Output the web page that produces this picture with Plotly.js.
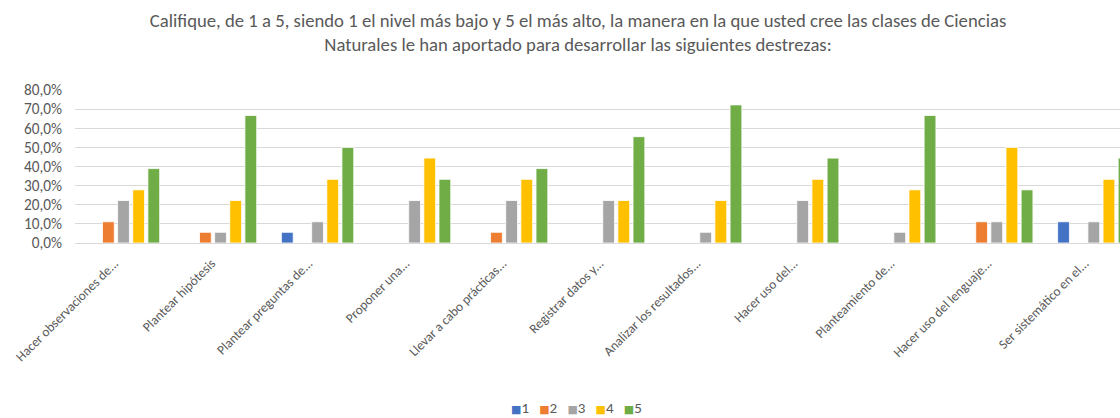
<!DOCTYPE html>
<html>
<head>
<meta charset="utf-8">
<script src="https://cdn.plot.ly/plotly-3.0.1.min.js"></script>
<style>html,body{margin:0;padding:0;background:#fff;}#chart{width:1120px;height:418px;}</style>
</head>
<body>
<div id="chart"></div>
<script>
const categories = [
  "Hacer observaciones de...",
  "Plantear hipótesis",
  "Plantear preguntas de...",
  "Proponer una...",
  "Llevar a cabo prácticas...",
  "Registrar datos y...",
  "Analizar los resultados...",
  "Hacer uso del...",
  "Planteamiento de...",
  "Hacer uso del lenguaje...",
  "Ser sistemático en el..."
];
const seriesNames = ["1", "2", "3", "4", "5"];
const s1 = [0, 0, 0.056, 0, 0, 0, 0, 0, 0, 0, 0.111];
const s2 = [0.111, 0.056, 0, 0, 0.056, 0, 0, 0, 0, 0.111, 0];
const s3 = [0.222, 0.056, 0.111, 0.222, 0.222, 0.222, 0.056, 0.222, 0.056, 0.111, 0.111];
const s4 = [0.278, 0.222, 0.333, 0.444, 0.333, 0.222, 0.222, 0.333, 0.278, 0.500, 0.333];
const s5 = [0.389, 0.667, 0.500, 0.333, 0.389, 0.556, 0.722, 0.444, 0.667, 0.278, 0.444];
const colors = ["#4472C4", "#ED7D31", "#A5A5A5", "#FFC000", "#70AD47"];
const allSeries = [s1, s2, s3, s4, s5];

const traces = allSeries.map((vals, i) => ({
  type: "bar",
  name: seriesNames[i],
  x: categories,
  y: vals,
  marker: {color: colors[i], line: {color: "#ffffff", width: 0.8}},
  hoverinfo: "none",
  showlegend: false
}));

const font = "Carlito, 'Liberation Sans', 'Open Sans', sans-serif";
const legendText = seriesNames.map((n, i) =>
  "<span style='color:" + colors[i] + ";font-family:DejaVu Sans;font-size:11px'>■</span>" + n
).join("   ");

const layout = {
  width: 1120, height: 418,
  margin: {l: 75, r: 0, t: 90, b: 175},
  paper_bgcolor: "#fff", plot_bgcolor: "#fff",
  separators: ", ",
  font: {family: font, color: "#595959", size: 13.3},
  title: {
    text: "Califique, de 1 a 5, siendo 1 el nivel más bajo y 5 el más alto, la manera en la que usted cree las clases de Ciencias<br>Naturales le han aportado para desarrollar las siguientes destrezas:",
    font: {family: font, size: 18.7, color: "#595959"},
    x: 578 / 1120, xanchor: "center",
    yref: "container", y: 1 - 27 / 418, yanchor: "middle"
  },
  barmode: "group",
  bargap: 0.22,
  bargroupgap: 0.22,
  xaxis: {
    type: "category",
    range: [-0.5, 10.27],
    tickangle: -45,
    showgrid: false,
    showline: false,
    ticks: "",
    ticklabelstandoff: 9,
    ticklabelshift: -9,
    tickfont: {family: font, size: 13.3, color: "#595959"},
    automargin: false
  },
  yaxis: {
    range: [0, 0.8],
    dtick: 0.1,
    tickformat: ".1%",
    gridcolor: "#d9d9d9",
    gridwidth: 1,
    zeroline: true,
    zerolinecolor: "#d9d9d9",
    zerolinewidth: 1,
    showline: false,
    ticks: "",
    ticklabelstandoff: 12,
    tickfont: {family: font, size: 15.3, color: "#595959"},
    automargin: false
  },
  annotations: [{
    xref: "paper", yref: "paper",
    x: (576 - 75) / 1045, y: -(408 - 243) / 153,
    xanchor: "center", yanchor: "middle",
    showarrow: false,
    text: legendText,
    font: {family: font, size: 15, color: "#595959"}
  }]
};

Plotly.newPlot("chart", traces, layout, {staticPlot: true, displayModeBar: false});
</script>
</body>
</html>
